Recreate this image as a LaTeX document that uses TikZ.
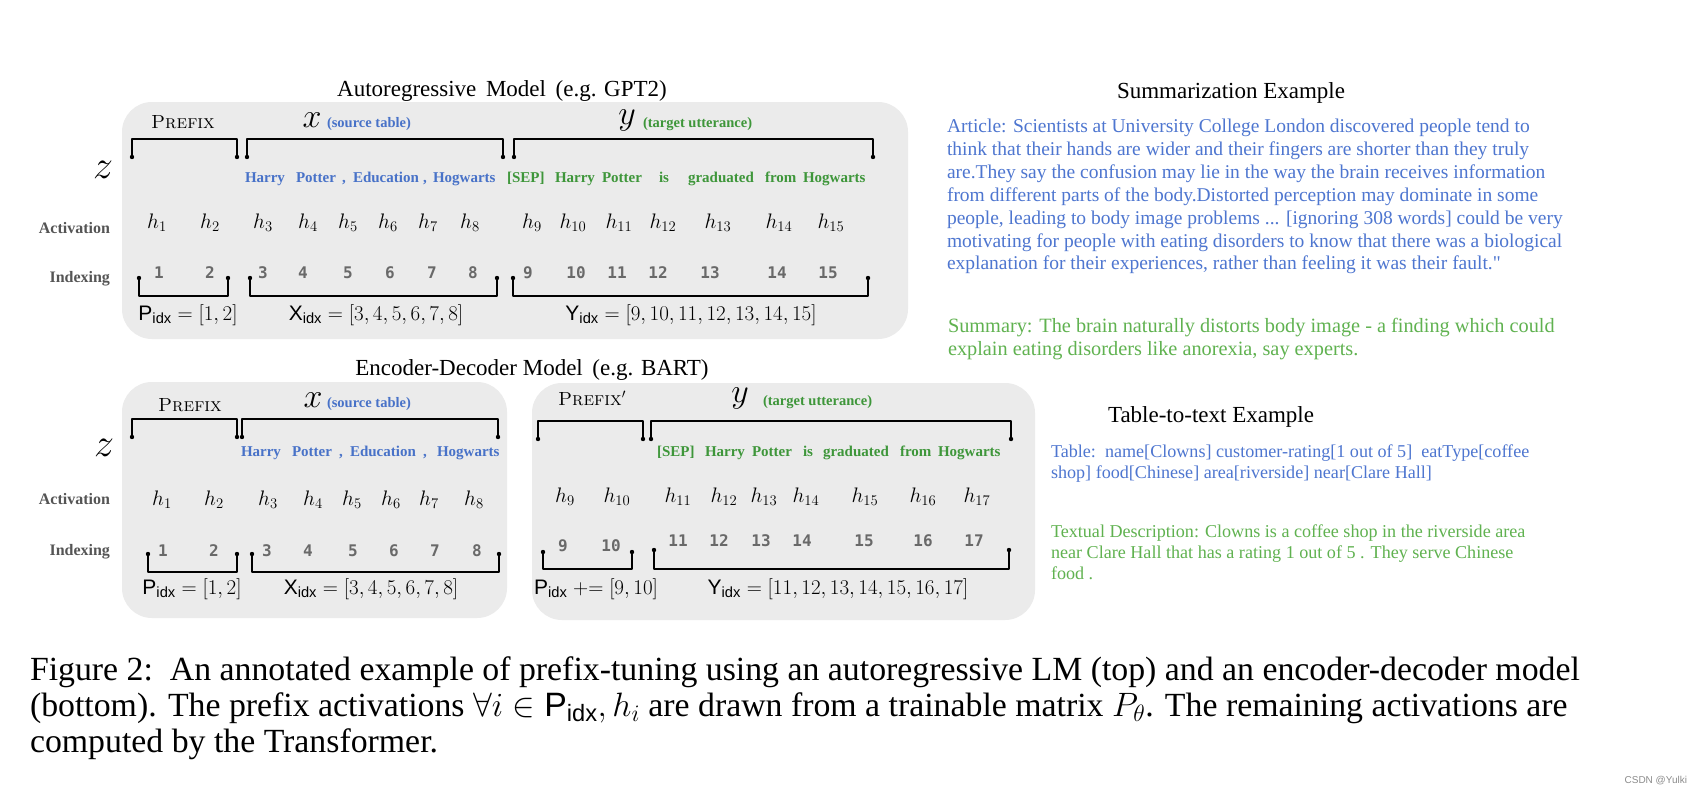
\RequirePackage{fix-cm}
\documentclass[tikz,border=0pt]{standalone}
\usepackage{amsmath}
\usepackage{fontspec}
\newfontfamily\tnr{Liberation Serif}
\newfontfamily\hel{Liberation Sans}
\newfontfamily\mono{DejaVu Sans Mono}
\definecolor{tokblue}{RGB}{72,114,200}
\definecolor{tokgreen}{RGB}{62,150,58}
\definecolor{artblue}{RGB}{78,118,208}
\definecolor{sumgreen}{RGB}{96,178,80}
\definecolor{boxgray}{RGB}{235,235,235}
\definecolor{lblgray}{RGB}{85,85,85}
\definecolor{idxgray}{RGB}{105,105,105}
\newcommand{\fs}[1]{\fontsize{#1}{1.2\dimexpr#1pt\relax}\selectfont}
\newcommand{\Pidx}{\text{\hel P}_{\text{\hel idx}}}
\newcommand{\Xidx}{\text{\hel X}_{\text{\hel idx}}}
\newcommand{\Yidx}{\text{\hel Y}_{\text{\hel idx}}}
\begin{document}
\begin{tikzpicture}[x=1pt,y=-1pt,
  every node/.style={inner sep=0pt,outer sep=0pt},
  panel/.style={fill=boxgray,draw=none,rounded corners=30pt},
  brk/.style={line width=2.6pt,line cap=round,line join=round,black},
  ttl/.style={font=\tnr\fs{23}},
  extitle/.style={font=\tnr\fs{23}},
  pre/.style={font=\fs{19}\scshape},
  var/.style={font=\fs{34}},
  zvar/.style={font=\fs{40}},
  srclbl/.style={font=\tnr\bfseries\fs{14.5},text=tokblue,anchor=west},
  tgtlbl/.style={font=\tnr\bfseries\fs{14.5},text=tokgreen,anchor=west},
  btok/.style={font=\tnr\bfseries\fs{15},text=tokblue,anchor=base west},
  gtok/.style={font=\tnr\bfseries\fs{15},text=tokgreen,anchor=base west},
  rowlbl/.style={font=\tnr\bfseries\fs{16},text=lblgray,anchor=east},
  hact/.style={font=\fs{21}},
  idx/.style={font=\mono\bfseries\fs{16},text=idxgray},
  setlbl/.style={font=\fs{21}},
  art/.style={font=\tnr\fs{19.5},text=artblue,anchor=base west},
  summ/.style={font=\tnr\fs{20.3},text=sumgreen,anchor=base west},
  tab/.style={font=\tnr\fs{18.1},text=artblue,anchor=base west},
  desc/.style={font=\tnr\fs{18.1},text=sumgreen,anchor=base west},
  capt/.style={font=\tnr\fs{33.8},anchor=base west}
]
\newcommand{\topbrk}[3]{\draw[brk] (#1,#3+18) -- (#1,#3) -- (#2,#3) -- (#2,#3+18);
  \fill (#1,#3+18) circle (2.2pt); \fill (#2,#3+18) circle (2.2pt);}
\newcommand{\botbrk}[4]{\draw[brk] (#1,#4) -- (#1,#3) -- (#2,#3) -- (#2,#4);
  \fill (#1,#4) circle (2.2pt); \fill (#2,#4) circle (2.2pt);}
\useasboundingbox (0,0) rectangle (1695,795);
\fill[white] (0,0) rectangle (1695,795);

% ================= TOP: autoregressive =================
\fill[panel] (122,102) rectangle (908,339);
\node[ttl] (t1) at (502,91) {Autoregressive\, Model\, (e.g. GPT2)};
\node[pre] (tpre) at (183,122) {Prefix};
\node[var] (tx) at (312,120) {$x$};
\node[srclbl] (tsrc) at (327,124) {(source table)};
\node[var] (ty) at (627,120) {$y$};
\node[tgtlbl] (ttgt) at (643,124) {(target utterance)};
\topbrk{132}{237}{139}
\topbrk{247}{503}{139}
\topbrk{514}{873}{139}
\node[zvar] (tz) at (103,170) {$z$};
% tokens
\node[btok] (ta1) at (245,182) {Harry};
\node[btok] (ta2) at (296,182) {Potter};
\node[btok] (ta3) at (342,182) {,};
\node[btok] (ta4) at (353,182) {Education};
\node[btok] (ta5) at (423,182) {,};
\node[btok] (ta6) at (433,182) {Hogwarts};
\node[gtok] (ta7) at (507,182) {[SEP]};
\node[gtok] (ta8) at (555,182) {Harry};
\node[gtok] (ta9) at (602,182) {Potter};
\node[gtok] (ta10) at (659,182) {is};
\node[gtok] (ta11) at (688,182) {graduated};
\node[gtok] (ta12) at (765,182) {from};
\node[gtok] (ta13) at (803,182) {Hogwarts};
\node[rowlbl] (tact) at (110,228) {Activation};
\node[rowlbl] (tind) at (110,279) {Indexing};
\foreach \xx [count=\i] in {157,210,263,308,348,388,428,470,532,573,619,663,718,779,831}
  \node[hact] (th\i) at (\xx,223) {$h_{\i}$};
\foreach \xx [count=\i] in {159,210,263,303,348,390,432,473,528,576,617,658,710,777,828}
  \node[idx] (tn\i) at (\xx,273) {\i};
\botbrk{139}{228}{296}{278}
\botbrk{250}{497}{296}{278}
\botbrk{513}{868}{296}{278}
\node[setlbl] (tp) at (188,315) {$\Pidx=[1,2]$};
\node[setlbl] (txi) at (376,315) {$\Xidx=[3,4,5,6,7,8]$};
\node[setlbl] (tyi) at (691,315) {$\Yidx=[9,10,11,12,13,14,15]$};

% ================= BOTTOM: encoder-decoder =================
\fill[panel] (122,382) rectangle (507,618);
\fill[panel] (532,383) rectangle (1035,620);
\node[ttl] (t2) at (532,370) {Encoder-Decoder Model\, (e.g. BART)};
% encoder
\node[pre] (epre) at (190,405) {Prefix};
\node[var] (ex) at (313,400) {$x$};
\node[srclbl] (esrc) at (327,404) {(source table)};
\topbrk{132}{237}{419}
\topbrk{242}{498}{419}
\node[zvar] (ez) at (104,448) {$z$};
\node[btok] (eb1) at (241,456) {Harry};
\node[btok] (eb2) at (292,456) {Potter};
\node[btok] (eb3) at (339,456) {,};
\node[btok] (eb4) at (350,456) {Education};
\node[btok] (eb5) at (423,456) {,};
\node[btok] (eb6) at (437,456) {Hogwarts};
\node[rowlbl] (eact) at (110,499) {Activation};
\node[rowlbl] (eind) at (110,552) {Indexing};
\foreach \xx [count=\i] in {162,214,268,313,352,391,429,474}
  \node[hact] (eh\i) at (\xx,500) {$h_{\i}$};
\foreach \xx [count=\i] in {163,214,267,308,353,394,435,477}
  \node[idx] (en\i) at (\xx,551) {\i};
\botbrk{148}{237}{572}{554}
\botbrk{252}{499}{572}{554}
\node[setlbl] (ep) at (192,589) {$\Pidx=[1,2]$};
\node[setlbl] (exi) at (371,589) {$\Xidx=[3,4,5,6,7,8]$};
% decoder
\node[pre] (dpre) at (592,398) {Prefix$'$};
\node[var] (dy) at (740,398) {$y$};
\node[tgtlbl] (dtgt) at (763,402) {(target utterance)};
\topbrk{538}{643}{421}
\topbrk{651}{1011}{421}
\node[gtok] (dc1) at (657,456) {[SEP]};
\node[gtok] (dc2) at (705,456) {Harry};
\node[gtok] (dc3) at (752,456) {Potter};
\node[gtok] (dc4) at (803,456) {is};
\node[gtok] (dc5) at (823,456) {graduated};
\node[gtok] (dc6) at (900,456) {from};
\node[gtok] (dc7) at (938,456) {Hogwarts};
\foreach \xx [count=\i from 9] in {565,617,678,724,764,806,865,923,977}
  \node[hact] (dh\i) at (\xx,497) {$h_{\i}$};
\node[idx] (dn9) at (563,546) {9};
\node[idx] (dn10) at (611,546) {10};
\foreach \xx [count=\i from 11] in {678,719,761,802,864,923,974}
  \node[idx] (dn\i) at (\xx,541) {\i};
\botbrk{543}{632}{569}{552}
\botbrk{654}{1009}{569}{550}
\node[setlbl] (dp) at (596,589) {$\Pidx\mathrel{+}=[9,10]$};
\node[setlbl] (dyi) at (838,589) {$\Yidx=[11,12,13,14,15,16,17]$};

% ================= RIGHT: examples =================
\node[extitle] (sumt) at (1231,93) {Summarization Example};
\node[art] (a1) at (947,132) {Article: Scientists at University College London discovered people tend to};
\node[art] (a2) at (947,155) {think that their hands are wider and their fingers are shorter than they truly};
\node[art] (a3) at (947,178) {are.They say the confusion may lie in the way the brain receives information};
\node[art] (a4) at (947,201) {from different parts of the body.Distorted perception may dominate in some};
\node[art] (a5) at (947,224) {people, leading to body image problems ... [ignoring 308 words] could be very};
\node[art] (a6) at (947,247) {motivating for people with eating disorders to know that there was a biological};
\node[art] (a7) at (947,269) {explanation for their experiences, rather than feeling it was their fault."};
\node[summ] (s1) at (948,332) {Summary: The brain naturally distorts body image - a finding which could};
\node[summ] (s2) at (948,355) {explain eating disorders like anorexia, say experts.};
\node[extitle] (tabt) at (1211,417) {Table-to-text Example};
\node[tab] (b1) at (1051,457) {Table:\ \ name[Clowns] customer-rating[1 out of 5]\ \ eatType[coffee};
\node[tab] (b2) at (1051,478) {shop] food[Chinese] area[riverside] near[Clare Hall]};
\node[desc] (c1) at (1051,537) {Textual Description: Clowns is a coffee shop in the riverside area};
\node[desc] (c2) at (1051,558) {near Clare Hall that has a rating 1 out of 5 . They serve Chinese};
\node[desc] (c3) at (1051,579) {food .};

% ================= caption =================
\node[capt] (cap1) at (30,680) {Figure 2:\ \ An annotated example of prefix-tuning using an autoregressive LM (top) and an encoder-decoder model};
\node[capt] (cap2) at (30,716) {(bottom). The prefix activations $\forall i\in\Pidx, h_i$ are drawn from a trainable matrix $P_\theta$. The remaining activations are};
\node[capt] (cap3) at (30,752) {computed by the Transformer.};
\node[font=\hel\fs{10},text=black!45,anchor=east] (wm) at (1687,781) {CSDN @Yulki};
\end{tikzpicture}
\end{document}
